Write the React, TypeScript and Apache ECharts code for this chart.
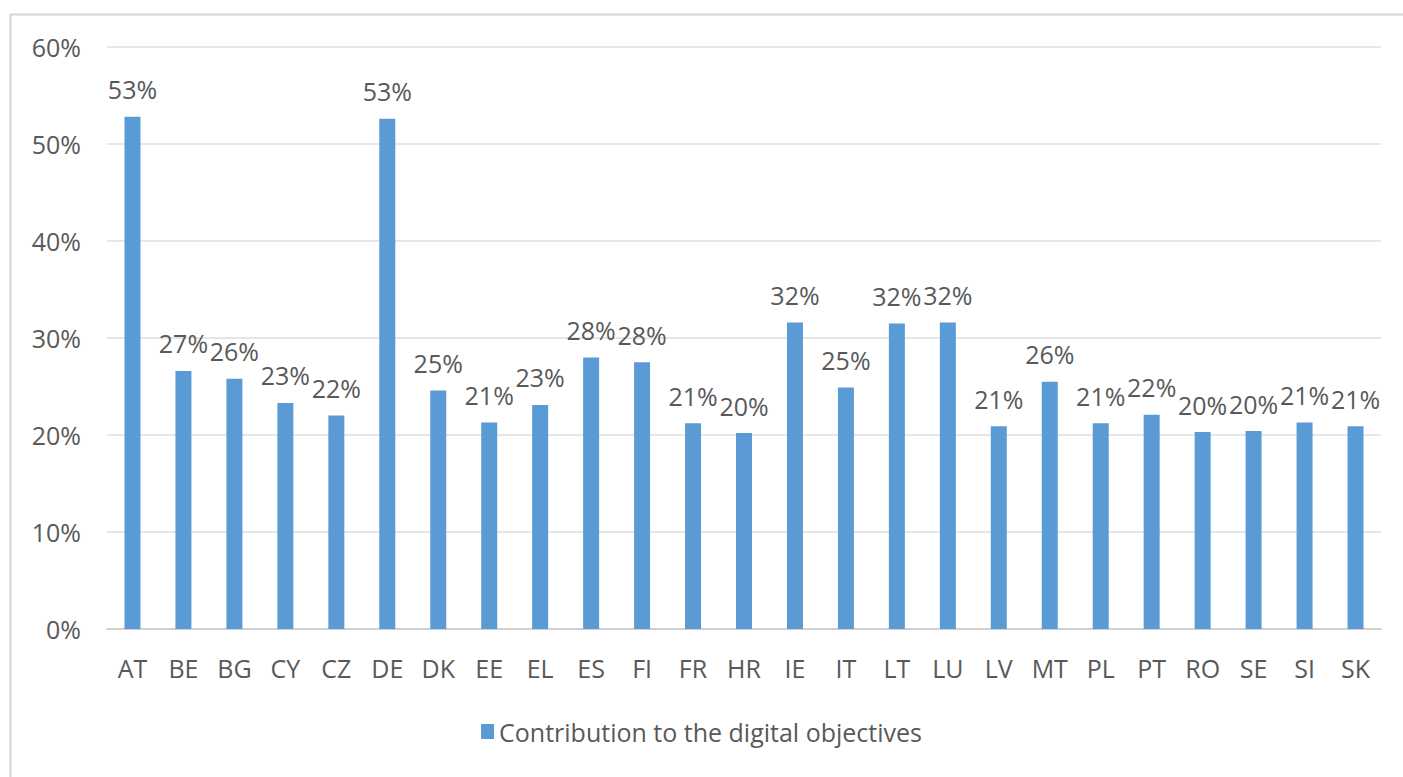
import React, { useEffect, useRef } from "react";
import * as echarts from "echarts";

const categories = ["AT", "BE", "BG", "CY", "CZ", "DE", "DK", "EE", "EL", "ES", "FI", "FR", "HR", "IE", "IT", "LT", "LU", "LV", "MT", "PL", "PT", "RO", "SE", "SI", "SK"];
const contribution = [52.8, 26.6, 25.8, 23.3, 22.0, 52.6, 24.6, 21.3, 23.1, 28.0, 27.5, 21.2, 20.2, 31.6, 24.9, 31.5, 31.6, 20.9, 25.5, 21.2, 22.1, 20.3, 20.4, 21.3, 20.9];
const seriesName = "Contribution to the digital objectives";
const yTicks = { min: 0, max: 60, interval: 10 };

const FONT = "'Open Sans', 'Noto Sans', sans-serif";
const TEXT = "#595959";
const FS = 25;

export default function App() {
  const ref = useRef<HTMLDivElement>(null);
  useEffect(() => {
    if (!ref.current) return;
    const chart = echarts.init(ref.current, undefined, { renderer: "svg" });
    chart.setOption({
      animation: false,
      backgroundColor: "#ffffff",
      textStyle: { fontFamily: FONT },
      graphic: [
        {
          type: "rect",
          left: 8,
          top: 12,
          shape: { width: 1420, height: 800 },
          style: { fill: "none", stroke: "#d6d6d6", lineWidth: 2 },
          silent: true,
        },
      ],
      grid: { left: 107, right: 22, top: 47, bottom: 148, containLabel: false },
      legend: {
        data: [seriesName],
        top: 714,
        left: "center",
        itemWidth: 13,
        itemHeight: 15,
        itemGap: 8,
        icon: "rect",
        textStyle: { color: TEXT, fontSize: FS, fontFamily: FONT },
      },
      xAxis: {
        type: "category",
        data: categories,
        axisLine: { lineStyle: { color: "#d0d0d0", width: 2 } },
        axisTick: { show: false },
        axisLabel: { color: TEXT, fontSize: FS, margin: 26, fontFamily: FONT },
      },
      yAxis: {
        type: "value",
        min: yTicks.min,
        max: yTicks.max,
        interval: yTicks.interval,
        axisLine: { show: false },
        axisTick: { show: false },
        splitLine: { lineStyle: { color: "#e6e6e6", width: 2 } },
        axisLabel: { color: TEXT, fontSize: FS, margin: 26, formatter: "{value}%", fontFamily: FONT },
      },
      series: [
        {
          name: seriesName,
          type: "bar",
          data: contribution,
          barWidth: 16,
          itemStyle: { color: "#5b9bd5" },
          label: {
            show: true,
            position: "top",
            distance: 15,
            color: TEXT,
            fontSize: FS,
            fontFamily: FONT,
            formatter: (p: any) => Math.round(p.value) + "%",
          },
        },
      ],
    });
    return () => chart.dispose();
  }, []);
  return (
    <div
      ref={ref}
      style={{ position: "fixed", left: 0, top: 0, width: 1403, height: 777, background: "#fff" }}
    />
  );
}
